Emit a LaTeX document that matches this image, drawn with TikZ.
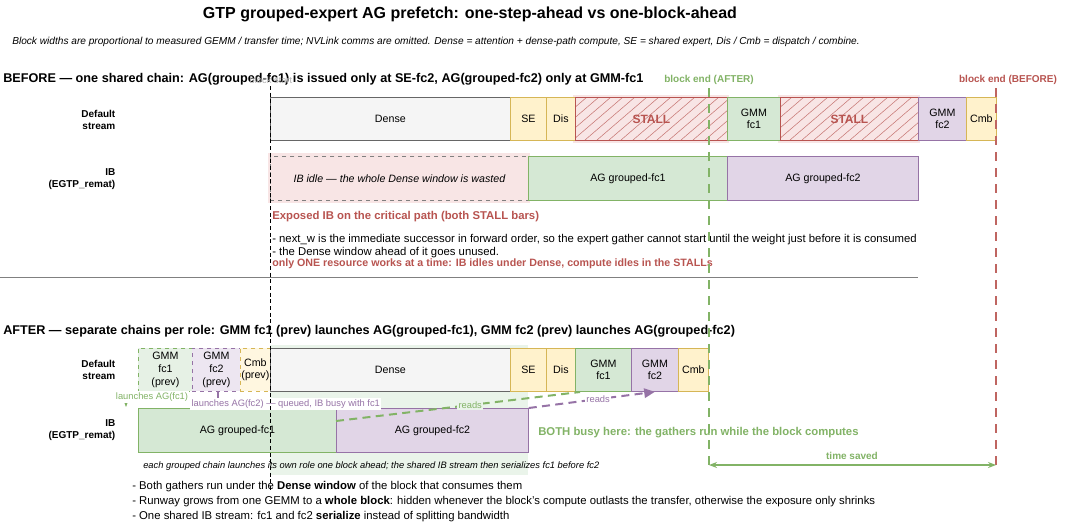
\documentclass[tikz,border=0pt]{standalone}
\usepackage{fontspec}
\setmainfont{Liberation Sans}
\usetikzlibrary{arrows.meta}
\definecolor{gfill}{HTML}{D5E8D4}\definecolor{gline}{HTML}{82B366}
\definecolor{pfill}{HTML}{E1D5E7}\definecolor{pline}{HTML}{9673A6}
\definecolor{yfill}{HTML}{FFF2CC}\definecolor{yline}{HTML}{D6B656}
\definecolor{rfill}{HTML}{F8E5E5}\definecolor{rline}{HTML}{B85450}
\definecolor{dfill}{HTML}{F5F5F5}\definecolor{dline}{HTML}{666666}
\tikzset{x=0.75pt,y=-0.75pt,
 blk/.style={draw,align=center,font=\fontsize{8}{9.5}\selectfont,inner sep=0pt,line width=0.6pt},
 grn/.style={blk,fill=gfill,draw=gline},
 pur/.style={blk,fill=pfill,draw=pline},
 yel/.style={blk,fill=yfill,draw=yline},
 gry/.style={blk,fill=dfill,draw=dline},
 stall/.style={blk,draw=rline,text=rline,font=\fontsize{9}{10}\selectfont\bfseries},
 lbl/.style={align=right,anchor=east,font=\fontsize{7.5}{9}\selectfont\bfseries},
 txt/.style={anchor=west,inner sep=0pt,font=\fontsize{8.5}{10}\selectfont}}
\newcommand{\hatchbox}[4]{\fill[rfill] (#1-2,#3-2) rectangle (#2+2,#4+3);
 \begin{scope}\clip (#1,#3) rectangle (#2,#4);
 \foreach \k in {0,12,...,200}{\draw[rline!80,line width=0.4pt] (#1+\k-50,#4) -- (#1+\k,#3);}
 \end{scope}}
\begin{document}
\begin{tikzpicture}
\useasboundingbox[fill=white] (0,0) rectangle (1077,528);
\node[font=\fontsize{12}{14}\selectfont\bfseries] (title) at (470,14) {GTP grouped-expert AG prefetch: one-step-ahead vs one-block-ahead};
\node[txt,font=\fontsize{7.6}{9}\selectfont\itshape] (sub) at (12,42) {Block widths are proportional to measured GEMM / transfer time; NVLink comms are omitted. Dense = attention + dense-path compute, SE = shared expert, Dis / Cmb = dispatch / combine.};
\node[txt,font=\fontsize{9.5}{11}\selectfont\bfseries] (bh) at (3,79) {BEFORE — one shared chain: AG(grouped-fc1) is issued only at SE-fc2, AG(grouped-fc2) only at GMM-fc1};
\node[font=\fontsize{7}{8}\selectfont,text=gray!60] (bs) at (271,80) {block start};
% background after
\fill[gfill!50] (270,345) rectangle (528,475);
% before row
\node[lbl] (ds1) at (120,120) {Default\\stream};
\node[lbl] (ib1) at (120,179) {IB\\(EGTP\_remat)};
\hatchbox{575}{727}{97}{140}
\hatchbox{780}{918}{97}{140}
\begin{scope}[every node/.append style={minimum height=43*0.75pt,anchor=north west}]
\node[gry,minimum width=240*0.75pt] (d1) at (270,97) {Dense};
\node[yel,minimum width=36*0.75pt] (se1) at (510,97) {SE};
\node[yel,minimum width=29*0.75pt] (dis1) at (546,97) {Dis};
\node[stall,minimum width=152*0.75pt] (st1) at (575,97) {STALL};
\node[grn,minimum width=53*0.75pt] (g11) at (727,97) {GMM\\fc1};
\node[stall,minimum width=138*0.75pt] (st2) at (780,97) {STALL};
\node[pur,minimum width=48*0.75pt] (g21) at (918,97) {GMM\\fc2};
\node[yel,minimum width=30*0.75pt] (cmb1) at (966,97) {Cmb};
\fill[rfill] (268,153) rectangle (530,203);
\node[blk,draw=gray,dashed,fill=rfill,minimum width=258*0.75pt,minimum height=44*0.75pt,font=\fontsize{8}{9}\selectfont\itshape] (idle) at (270,156) {IB idle — the whole Dense window is wasted};
\node[grn,minimum width=199*0.75pt,minimum height=44*0.75pt] (ag11) at (528,156) {AG grouped-fc1};
\node[pur,minimum width=191*0.75pt,minimum height=44*0.75pt] (ag21) at (727,156) {AG grouped-fc2};
\end{scope}
\node[txt,text=rline,font=\fontsize{8.5}{10}\selectfont\bfseries] (exp) at (272,217) {Exposed IB on the critical path (both STALL bars)};
\node[txt] (b1) at (272,240) {- next\_w is the immediate successor in forward order, so the expert gather cannot start until the weight just before it is consumed};
\node[txt] (b2) at (272,253) {- the Dense window ahead of it goes unused.};
\node[txt,text=rline,font=\fontsize{8}{9}\selectfont\bfseries] (one) at (272,264) {only ONE resource works at a time: IB idles under Dense, compute idles in the STALLs};
\draw[gray,line width=0.6pt] (0,277) -- (918,277);
% after
\node[txt,font=\fontsize{9.5}{11}\selectfont\bfseries] (ah) at (3,331) {AFTER — separate chains per role: GMM fc1 (prev) launches AG(grouped-fc1), GMM fc2 (prev) launches AG(grouped-fc2)};
\node[lbl] (ds2) at (120,370) {Default\\stream};
\node[lbl] (ib2) at (120,430) {IB\\(EGTP\_remat)};
\begin{scope}[every node/.append style={minimum height=43*0.75pt,anchor=north west}]
\node[grn,dashed,fill=gfill!60,minimum width=54*0.75pt] (pg1) at (138,348) {GMM\\fc1\\(prev)};
\node[pur,dashed,fill=pfill!60,minimum width=48*0.75pt] (pg2) at (192,348) {GMM\\fc2\\(prev)};
\node[yel,dashed,fill=yfill!60,minimum width=30*0.75pt] (pc) at (240,348) {Cmb\\(prev)};
\node[gry,minimum width=240*0.75pt] (d2) at (270,348) {Dense};
\node[yel,minimum width=36*0.75pt] (se2) at (510,348) {SE};
\node[yel,minimum width=29*0.75pt] (dis2) at (546,348) {Dis};
\node[grn,minimum width=56*0.75pt] (g12) at (575,348) {GMM\\fc1};
\node[pur,minimum width=47*0.75pt] (g22) at (631,348) {GMM\\fc2};
\node[yel,minimum width=30*0.75pt] (cmb2) at (678,348) {Cmb};
\node[grn,minimum width=198*0.75pt,minimum height=44*0.75pt] (ag12) at (138,408) {AG grouped-fc1};
\node[pur,minimum width=192*0.75pt,minimum height=44*0.75pt] (ag22) at (336,408) {AG grouped-fc2};
\end{scope}
\coordinate (l1) at (126,391);
\coordinate (l2) at (218,391);
\draw[gline,-{Stealth[length=4pt]},line width=0.6pt] (l1) -- (126,407);
\draw[pline,line width=1pt] (l2) -- (218,398);
\node[font=\fontsize{7}{8}\selectfont,text=gline,fill=white,inner sep=1pt] (la1) at (152,397) {launches AG(fc1)};
\node[txt,font=\fontsize{7}{8}\selectfont,text=pline,fill=white,inner sep=1pt] (la2) at (190,404) {launches AG(fc2) — queued, IB busy with fc1};
\coordinate (rs) at (336,421);
\coordinate (rg) at (580,392);
\draw[gline,line width=1.5pt,dash pattern=on 6pt off 4pt] (rs) -- (rg) node[pos=0.55,fill=gfill!50,inner sep=1pt,text=gline,font=\fontsize{7}{8}\selectfont,solid] {reads};
\draw[pline,line width=1.5pt,-{Triangle[length=8pt,width=7pt]},dash pattern=on 6pt off 4pt] (ag22.north east) -- (g22.south) node[pos=0.55,fill=white,inner sep=1pt,text=pline,font=\fontsize{7}{8}\selectfont,solid] {reads};
\node[txt,text=gline,font=\fontsize{8.5}{10}\selectfont\bfseries] (both) at (538,433) {BOTH busy here: the gathers run while the block computes};
\node[txt,font=\fontsize{7}{8}\selectfont\itshape] (note) at (143,466) {each grouped chain launches its own role one block ahead; the shared IB stream then serializes fc1 before fc2};
% vertical lines
\draw[line width=0.6pt,dash pattern=on 3pt off 2pt] (270,86) -- (270,490);
\draw[gline,line width=1.5pt,dash pattern=on 7pt off 5pt] (709,88) -- (709,470);
\draw[rline!90,line width=1.5pt,dash pattern=on 7pt off 5pt] (996,88) -- (996,470);
\node[text=gline,font=\fontsize{7.5}{9}\selectfont\bfseries] (bea) at (709,80) {block end (AFTER)};
\node[text=rline,font=\fontsize{7.5}{9}\selectfont\bfseries] (beb) at (1008,80) {block end (BEFORE)};
\coordinate (ts1) at (709,465); \coordinate (ts2) at (996,465);
\draw[gline,line width=1pt,{Stealth[length=6pt]}-{Stealth[length=6pt]}] (ts1) -- (ts2);
\node[text=gline,font=\fontsize{7.5}{9}\selectfont\bfseries] (tsl) at (852,456) {time saved};
\node[txt] (c1) at (132,487) {- Both gathers run under the \textbf{Dense window} of the block that consumes them};
\node[txt] (c2) at (132,502) {- Runway grows from one GEMM to a \textbf{whole block}: hidden whenever the block’s compute outlasts the transfer, otherwise the exposure only shrinks};
\node[txt] (c3) at (132,517) {- One shared IB stream: fc1 and fc2 \textbf{serialize} instead of splitting bandwidth};
\end{tikzpicture}
\end{document}
